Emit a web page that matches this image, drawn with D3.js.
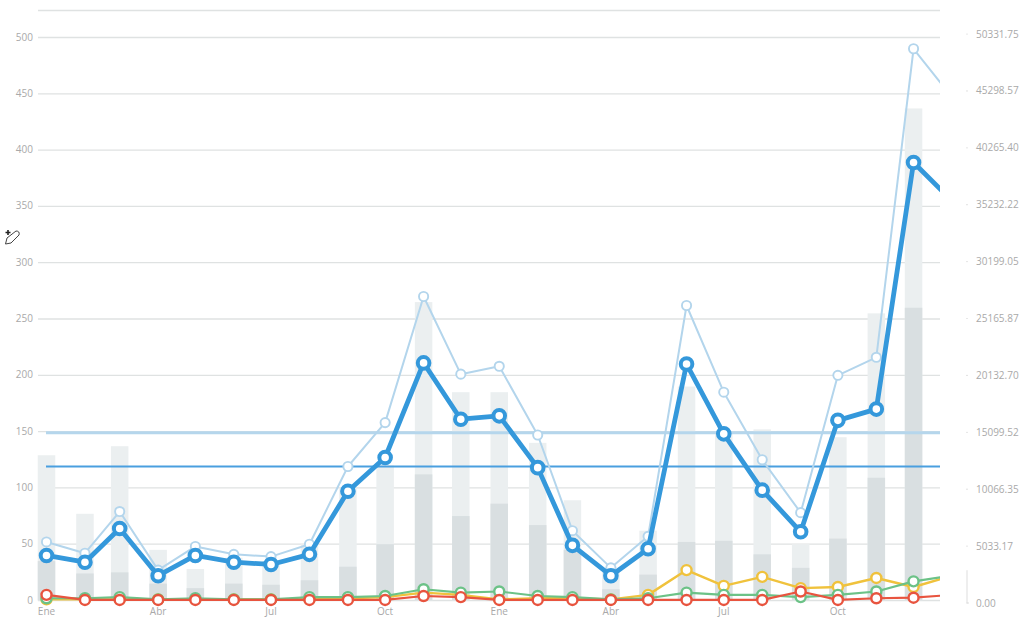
<!DOCTYPE html>
<html><head><meta charset="utf-8">
<script src="https://cdnjs.cloudflare.com/ajax/libs/d3/7.8.5/d3.min.js"></script>
<style>html,body{margin:0;padding:0;background:#fff}svg{display:block}text{font-family:"Open Sans",sans-serif;font-size:10px;fill:#a9a9a9}</style>
</head><body><svg id="c" width="1024" height="617"></svg>
<script>
const monthStarts = d3.utcMonths(new Date(Date.UTC(2017,0,1)), new Date(Date.UTC(2019,1,1)));
const monthNames = ["Ene","","","Abr","","","Jul","","","Oct","","","Ene","","","Abr","","","Jul","","","Oct","","",""];
const leftTicks = [0,50,100,150,200,250,300,350,400,450,500,524];
const leftLabels = [0,50,100,150,200,250,300,350,400,450,500];
const rightTicks = ["0.00","5033.17","10066.35","15099.52","20132.70","25165.87","30199.05","35232.22","40265.40","45298.57","50331.75"];
const barsLight = [129,77,137,45,28,38,35,50,100,120,265,185,185,140,89,27,62,190,150,152,50,145,255,437,300];
const barsDark = [35,24,25,15,11,15,14,18,30,50,112,75,86,67,45,10,23,52,53,41,29,55,109,260,200];
const lightBlue = [52,42,79,27,48,41,39,50,119,158,270,201,208,147,62,29,57,262,185,125,78,200,216,490,447];
const blue = [40,34,64,22,40,34,32,41,97,127,211,161,164,118,49,22,46,210,148,98,61,160,170,389,355];
const green = [2,2,3,1,2,1,1,3,3,4,10,7,8,4,3,1,2,7,5,5,3,5,8,17,22];
const yellow = [1,1,1,1,1,1,1,1,2,3,7,5,1,2,2,1,5,27,13,21,11,12,20,12,22];
const red = [5,0.5,0.5,0.5,0.5,0.5,0.5,0.5,0.5,0.5,4,3,0.5,0.5,0.5,0.5,0.5,0.5,0.5,0.5,8,0.5,2,2.5,5];
const refLight = 149, refBlue = 119;

const svg = d3.select("#c");
const x = d3.scaleUtc().domain([monthStarts[0],monthStarts[24]]).range([46.5,952]);
const y = d3.scaleLinear().domain([0,500]).range([600.5,37.5]);
const yR = d3.scaleLinear().domain([0,50331.75]).range([603,34]);
const idx = d3.range(monthStarts.length);
const px = i => x(monthStarts[i]);
svg.append("defs").append("clipPath").attr("id","plot")
  .append("rect").attr("x",30).attr("y",0).attr("width",910).attr("height",617);

// grid
svg.append("g").selectAll("line").data(leftTicks).join("line")
  .attr("x1",38).attr("x2",940).attr("y1",d=>y(d)).attr("y2",d=>y(d))
  .attr("stroke","#dfe2e2").attr("stroke-width",1.3);

// left labels
svg.append("g").selectAll("text").data(leftLabels).join("text")
  .attr("x",33).attr("y",d=>y(d)+3).attr("text-anchor","end").text(d=>d);

// right axis
const rg = svg.append("g");
rg.selectAll("text").data(rightTicks).join("text")
  .attr("x",976).attr("y",d=>yR(+d)+3.5).text(d=>d);
rg.selectAll("circle").data(rightTicks).join("circle")
  .attr("cx",967).attr("cy",d=>yR(+d)).attr("r",0.6).attr("fill","#ccc");
rg.append("path").attr("fill","none").attr("stroke","#ddd")
  .attr("d",d3.line()([[967,yR(2900)],[967,yR(0)],[969,yR(0)]]));

// month labels
svg.append("g").selectAll("text").data(idx.filter(i=>monthNames[i])).join("text")
  .attr("x",d=>px(d)).attr("y",615).attr("text-anchor","middle").text(d=>monthNames[d]);

const plot = svg.append("g").attr("clip-path","url(#plot)");
const bw = 17.5;
plot.append("g").selectAll("rect").data(idx).join("rect")
  .attr("x",d=>px(d)-bw/2).attr("width",bw).attr("y",d=>y(barsLight[d]))
  .attr("height",d=>y(0)-y(barsLight[d])).attr("fill","#ebeff0");
plot.append("g").selectAll("rect").data(idx).join("rect")
  .attr("x",d=>px(d)-bw/2).attr("width",bw).attr("y",d=>y(barsDark[d]))
  .attr("height",d=>y(0)-y(barsDark[d])).attr("fill","#d9dfe1");

// reference lines
plot.append("line").attr("x1",46).attr("x2",940).attr("y1",y(refLight)).attr("y2",y(refLight))
  .attr("stroke","#b5d6ec").attr("stroke-width",3);
plot.append("line").attr("x1",46).attr("x2",940).attr("y1",y(refBlue)).attr("y2",y(refBlue))
  .attr("stroke","#4a9fdf").attr("stroke-width",2);

function series(vals,color,lw,r,sw){
  const g = plot.append("g");
  g.append("path").attr("fill","none").attr("stroke",color).attr("stroke-width",lw)
    .attr("stroke-linejoin","round")
    .attr("d",d3.line().x((d,i)=>px(i)).y(d=>y(d))(vals));
  g.selectAll("circle").data(vals).join("circle")
    .attr("cx",(d,i)=>px(i)).attr("cy",d=>y(d)).attr("r",r)
    .attr("fill","#fff").attr("stroke",color).attr("stroke-width",sw);
}
series(lightBlue,"#b3d5ec",2,4.6,1.9);
series(yellow,"#f0c23c",2.4,5,2.4);
series(green,"#6cc287",2.2,5,2.4);
series(red,"#e8543f",2.2,5,2.4);
series(blue,"#3498db",4.8,5.8,4);

// cursor glyph
const ic = svg.append("g").attr("transform","translate(4,229)").attr("fill","none").attr("stroke","#444").attr("stroke-width",1);
ic.append("path").attr("d","M1.5,15 L3,9 L12,2 Q16,2 15,6 L7,14 Z");
ic.append("path").attr("d","M1.5,3.5 h5 M4,1 v5").attr("stroke","#222").attr("stroke-width",1.6);
</script></body></html>
